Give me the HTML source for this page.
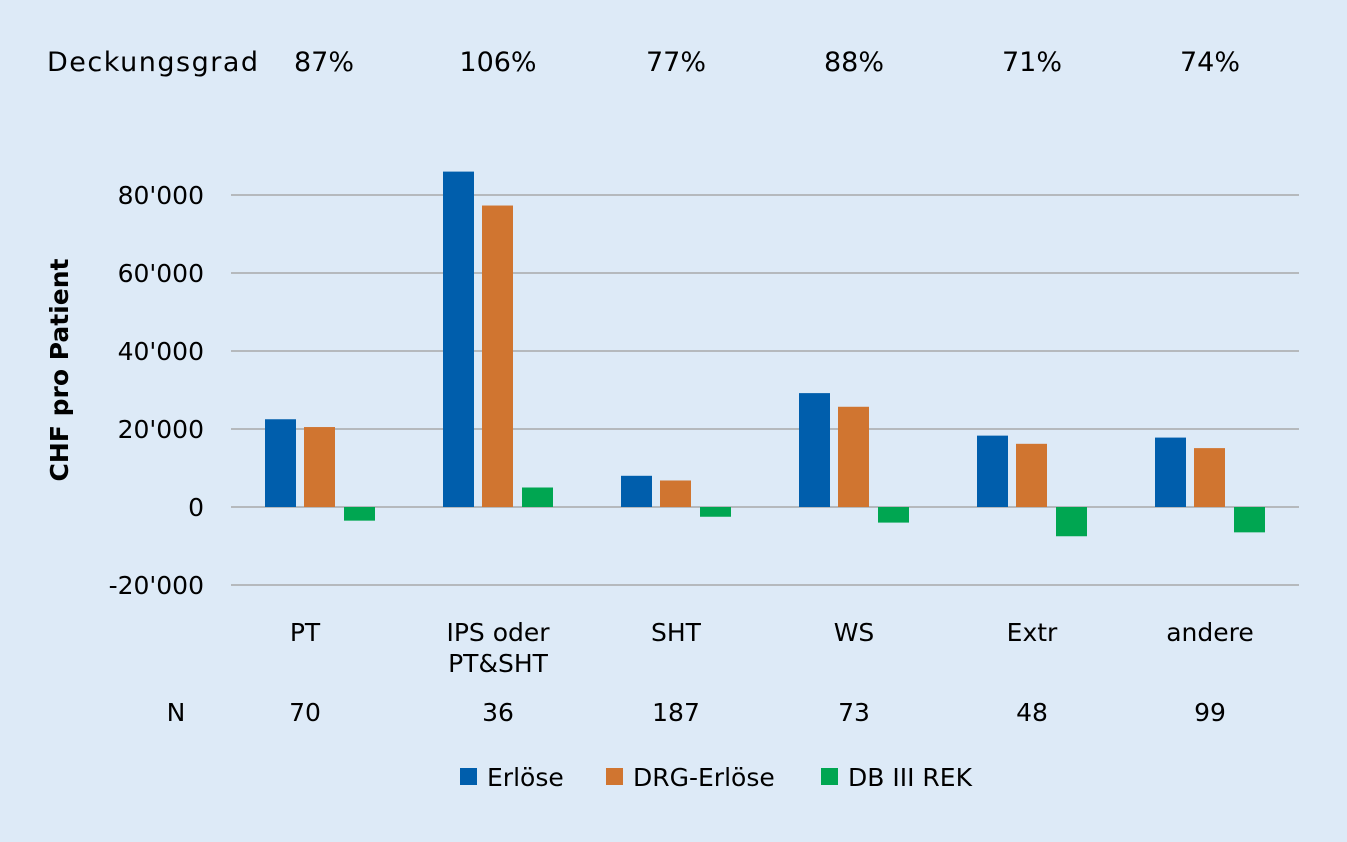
<!DOCTYPE html>
<html><head><meta charset="utf-8"><style>
body{margin:0;background:#ddeaf7;}
svg text{font-family:"DejaVu Sans","Liberation Sans",sans-serif;fill:#000;}
</style></head><body>
<svg width="1347" height="837" xmlns="http://www.w3.org/2000/svg">
<rect width="1347" height="837" fill="#ddeaf7"/>
<g id="grid"></g><g id="bars"></g><g id="labels"></g>
<text x="68" y="370" transform="rotate(-90 68 370)" text-anchor="middle" font-size="25" font-weight="bold">CHF pro Patient</text>
<text x="47" y="71" font-size="27" textLength="211">Deckungsgrad</text>
<text x="176" y="721" text-anchor="middle" font-size="25">N</text>
<g>
<rect x="460" y="768" width="17" height="17" fill="#005eac"/>
<text x="487" y="786" font-size="25">Erlöse</text>
<rect x="606" y="768" width="17" height="17" fill="#d07530"/>
<text x="633" y="786" font-size="25">DRG-Erlöse</text>
<rect x="821" y="768" width="17" height="17" fill="#00a651"/>
<text x="848" y="786" font-size="25">DB III REK</text>
</g>
</svg>
<script>
const categories=[["PT"],["IPS oder","PT&SHT"],["SHT"],["WS"],["Extr"],["andere"]];
const erloese=[22500,86000,8000,29200,18300,17800];
const drg=[20500,77300,6800,25700,16200,15100];
const db=[-3500,5000,-2500,-4000,-7500,-6500];
const deckung=["87%","106%","77%","88%","71%","74%"];
const nVals=["70","36","187","73","48","99"];
const ticks=[-20000,0,20000,40000,60000,80000];
const tickLabels=["-20'000","0","20'000","40'000","60'000","80'000"];
const NS="http://www.w3.org/2000/svg";
const left=231,right=1299,step=(right-left)/categories.length;
const y=v=>507-v*78/20000;
const cx=i=>left+step*(i+0.5);
function mk(tag,attrs,parent,txt){const e=document.createElementNS(NS,tag);for(const k in attrs)e.setAttribute(k,attrs[k]);if(txt!==undefined)e.textContent=txt;document.getElementById(parent).appendChild(e);return e;}
ticks.forEach((t,i)=>{
 const l=mk('line',{x1:left,x2:right,y1:y(t),y2:y(t),stroke:'#b5b9bd','stroke-width':2},'grid');
 
 
 const tx=mk('text',{x:204,y:y(t)+9,'text-anchor':'end','font-size':25},'labels',tickLabels[i]);
 
 
});
const series=[[erloese,'#005eac',-55,'bar-erloese'],[drg,'#d07530',-16,'bar-drg'],[db,'#00a651',24,'bar-db']];
categories.forEach((c,i)=>{
 series.forEach(s=>{
  const v=s[0][i];
  const r=mk('rect',{x:cx(i)+s[2],width:31,y:Math.min(y(v),y(0)),height:Math.abs(y(v)-y(0)),fill:s[1]},'bars');
  
  
 });
 c.forEach((line,j)=>{
  const t=mk('text',{x:cx(i)-(i===0?15:0),y:641+j*31,'text-anchor':'middle','font-size':25},'labels',line);
  
  
 });
 const d=mk('text',{x:cx(i)+(i===0?4:0),y:71,'text-anchor':'middle','font-size':27},'labels',deckung[i]);
 
 
 const n=mk('text',{x:cx(i)-(i===0?15:0),y:721,'text-anchor':'middle','font-size':25},'labels',nVals[i]);
 
 
});
</script>
</body></html>
